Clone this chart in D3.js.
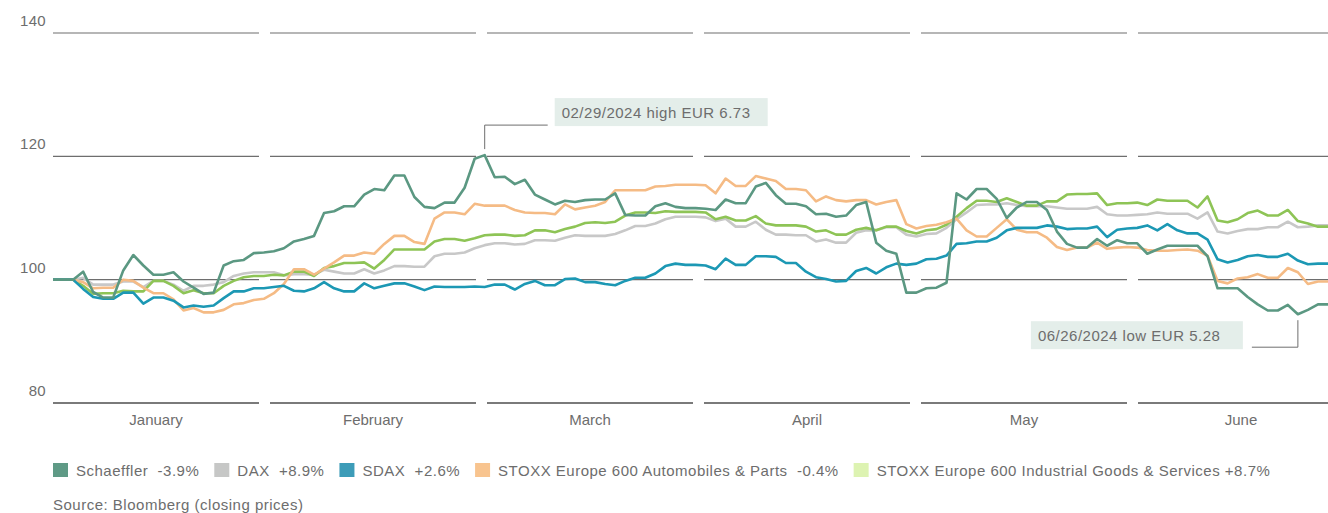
<!DOCTYPE html>
<html>
<head>
<meta charset="utf-8">
<script src="https://cdn.jsdelivr.net/npm/d3@7"></script>
<style>
  body { margin: 0; background: #fff; }
  text { font-family: "Liberation Sans", Arial, sans-serif; fill: #6d6d6d; }
  .wide { letter-spacing: 0.5px; }
</style>
</head>
<body>
<svg id="chart"></svg>
<script>
// index values, 12/29/2023 = 100, one value per trading day
var schaeffler = [100, 100, 100, 101.3, 98.0, 97.1, 97.1, 101.5, 104.0, 102.3,
  100.8, 100.8, 101.2, 99.7, 98.7, 97.7, 97.9, 102.3, 103.0, 103.2,
  104.3, 104.4, 104.6, 105.1, 106.2, 106.6, 107.1, 110.8, 111.1, 111.9,
  111.9, 113.8, 114.7, 114.5, 116.9, 116.9, 113.4, 111.8, 111.6, 112.5,
  112.5, 114.9, 119.6, 120.2, 116.6, 116.7, 115.5, 116.2, 113.8, 113.0,
  112.2, 112.8, 112.6, 112.9, 113.0, 113.0, 114.0, 110.5, 110.4, 110.4,
  111.9, 112.4, 111.8, 111.6, 111.6, 111.5, 111.3, 113.0, 112.4, 112.4,
  115.1, 115.7, 113.7, 112.3, 112.3, 111.9, 110.6, 110.7, 110.2, 110.4,
  112.1, 112.6, 106.0, 104.7, 104.2, 97.9, 97.9, 98.6, 98.7, 99.5,
  114.0, 113.0, 114.7, 114.7, 113.1, 110.0, 111.7, 112.6, 112.6, 111.3,
  107.8, 105.8, 105.2, 105.2, 106.6, 105.5, 106.4, 105.9, 105.9, 104.2,
  104.9, 105.5, 105.5, 105.5, 105.5, 103.8, 98.6, 98.6, 98.6, 97.2,
  96.0, 95.0, 95.0, 95.9, 94.4, 95.1, 96.0, 96.0];

var dax = [100, 100, 100, 100.3, 99.2, 99.2, 99.2, 99.7, 99.7, 98.8,
  99.8, 99.8, 99.2, 98.2, 99.0, 99.0, 99.2, 99.6, 100.6, 101.0,
  101.2, 101.2, 101.2, 100.7, 100.9, 100.9, 100.8, 101.6, 101.3, 101.0,
  101.0, 101.7, 101.0, 101.5, 102.2, 102.2, 102.1, 102.1, 103.8, 104.2,
  104.2, 104.4, 105.1, 105.6, 105.9, 105.9, 105.7, 105.8, 106.4, 106.4,
  106.3, 106.8, 107.2, 107.1, 107.1, 107.1, 107.4, 108.0, 108.7, 108.7,
  109.1, 109.8, 110.2, 110.2, 110.2, 110.1, 109.5, 109.9, 108.6, 108.6,
  109.4, 108.1, 107.3, 107.3, 107.2, 107.2, 106.2, 106.5, 106.0, 106.0,
  107.6, 108.0, 108.0, 108.5, 108.5, 107.3, 107.0, 107.4, 107.5, 108.4,
  109.8, 110.9, 112.1, 112.2, 112.2, 112.4, 112.1, 111.9, 111.9, 111.9,
  111.7, 111.5, 111.5, 111.5, 111.8, 110.6, 110.4, 110.4, 110.5, 110.6,
  110.9, 110.7, 110.7, 110.7, 109.9, 110.9, 107.8, 107.5, 107.9, 108.2,
  108.2, 108.5, 108.5, 109.4, 108.5, 108.6, 108.8, 108.8];

var sdax = [100, 100, 100, 98.5, 97.2, 96.9, 96.9, 97.9, 97.9, 96.1,
  97.1, 97.1, 96.6, 95.5, 95.8, 95.6, 95.8, 97.0, 98.1, 98.1,
  98.6, 98.6, 98.8, 99.0, 98.2, 98.1, 98.6, 99.6, 98.6, 98.1,
  98.1, 99.4, 98.6, 99.0, 99.4, 99.4, 98.9, 98.3, 98.9, 98.8,
  98.8, 98.8, 98.9, 98.8, 99.2, 99.2, 98.4, 99.3, 99.8, 99.1,
  99.1, 100.1, 100.2, 99.6, 99.6, 99.3, 99.1, 99.8, 100.3, 100.3,
  101.0, 102.2, 102.6, 102.4, 102.4, 102.3, 101.7, 103.4, 102.4, 102.4,
  103.8, 103.8, 103.7, 102.7, 102.7, 101.3, 100.4, 100.1, 99.7, 99.8,
  101.4, 101.9, 101.0, 102.0, 102.6, 102.4, 102.6, 103.3, 103.4, 103.9,
  105.8, 105.9, 106.2, 106.2, 106.8, 108.0, 108.4, 108.4, 108.4, 108.8,
  108.6, 108.2, 108.3, 108.3, 108.6, 106.9, 108.1, 108.3, 108.4, 108.8,
  108.0, 109.0, 108.0, 107.5, 107.5, 106.5, 103.3, 102.8, 103.2, 103.8,
  104.0, 103.7, 103.7, 104.2, 103.1, 102.5, 102.6, 102.6];

var autos = [100, 100, 100, 99.6, 98.6, 98.7, 98.7, 100.0, 99.8, 98.7,
  97.8, 97.8, 96.8, 95.0, 95.4, 94.7, 94.7, 95.1, 96.0, 96.2,
  96.7, 96.9, 97.8, 99.3, 101.7, 101.7, 100.8, 101.8, 102.8, 103.9,
  103.9, 104.4, 104.2, 105.8, 107.1, 107.1, 106.1, 105.8, 109.9, 110.9,
  110.9, 110.6, 112.3, 112.0, 112.0, 112.0, 111.3, 110.9, 110.8, 110.8,
  110.6, 112.2, 111.4, 111.7, 112.0, 112.6, 114.5, 114.5, 114.5, 114.5,
  115.1, 115.2, 115.4, 115.4, 115.4, 115.3, 114.0, 116.4, 115.2, 115.2,
  116.8, 116.4, 116.0, 114.7, 114.7, 114.5, 112.7, 113.5, 112.9, 112.7,
  112.9, 112.9, 112.2, 112.6, 112.9, 109.0, 108.3, 108.7, 108.9, 109.3,
  109.9, 108.0, 107.0, 107.0, 108.4, 109.8, 108.1, 107.7, 107.7, 106.8,
  105.3, 104.8, 105.2, 105.2, 106.0, 105.0, 105.2, 105.3, 105.2, 104.8,
  104.7, 104.7, 104.8, 104.9, 104.7, 103.9, 99.8, 99.4, 100.2, 100.4,
  100.9, 100.3, 100.3, 101.9, 101.2, 99.3, 99.7, 99.7];

var industrials = [100, 100, 100, 99.0, 97.7, 97.8, 97.8, 98.2, 98.1, 98.1,
  99.8, 99.8, 99.0, 97.8, 98.3, 97.8, 97.8, 99.0, 99.8, 100.4,
  100.6, 100.6, 100.8, 100.7, 101.3, 101.3, 100.6, 101.9, 102.2, 102.7,
  102.7, 102.8, 101.8, 103.2, 104.9, 104.9, 104.9, 104.9, 106.2, 106.6,
  106.6, 106.3, 106.7, 107.2, 107.3, 107.3, 107.1, 107.2, 108.0, 108.0,
  107.7, 108.2, 108.6, 109.2, 109.3, 109.2, 109.4, 110.4, 110.9, 110.9,
  110.8, 111.1, 111.0, 111.0, 111.0, 110.9, 109.8, 110.2, 109.6, 109.6,
  110.3, 109.1, 108.8, 108.8, 108.8, 108.6, 107.8, 108.0, 107.3, 107.3,
  108.1, 108.4, 108.0, 108.6, 108.6, 107.9, 107.5, 108.0, 108.2, 108.9,
  110.2, 111.6, 112.8, 112.8, 112.6, 113.2, 112.6, 112.0, 112.0, 112.7,
  112.7, 113.8, 113.9, 113.9, 114.0, 112.1, 112.4, 112.4, 112.5, 112.1,
  113.0, 112.8, 112.8, 112.8, 111.7, 113.5, 109.6, 109.3, 109.8, 110.8,
  111.2, 110.4, 110.4, 111.3, 109.5, 109.1, 108.6, 108.6];

var months = ["January", "February", "March", "April", "May", "June"];
var yTicks = [80, 100, 120, 140];

var seriesNames = ["Schaeffler", "DAX", "SDAX", "STOXX Europe 600 Automobiles & Parts", "STOXX Europe 600 Industrial Goods & Services"];
var seriesChanges = ["  -3.9%", "  +8.9%", "  +2.6%", "  -0.4%", " +8.7%"];
var lineColors = ["#5b9882", "#c8c8c8", "#1c98b4", "#f5bb85", "#8ec456"];
var swatchColors = ["#5f9a86", "#c6c7c6", "#3d9cb8", "#f8c48f", "#ddf3b2"];

var highLabel = "02/29/2024 high EUR 6.73";
var lowLabel = "06/26/2024 low EUR 5.28";

var width = 1328, height = 513;

var svg = d3.select("#chart")
    .attr("width", width)
    .attr("height", height);

var x = d3.scaleLinear()
    .domain([0, schaeffler.length - 1])
    .range([53, 1328]);

var y = d3.scaleLinear()
    .domain([80, 140])
    .range([403, 33]);

var monthBand = d3.scaleBand()
    .domain(months)
    .range([53, 1344])
    .paddingInner(11 / 217)
    .paddingOuter(0);

// gridlines, broken up into one piece per month
yTicks.forEach(function(t) {
    svg.selectAll(null)
        .data(months)
        .enter()
        .append("line")
        .attr("x1", function(m) { return monthBand(m); })
        .attr("x2", function(m) { return monthBand(m) + monthBand.bandwidth(); })
        .attr("y1", y(t))
        .attr("y2", y(t))
        .attr("stroke", t == 80 ? "#7a7a7a" : "#6e6e6e")
        .attr("stroke-width", t == 80 ? 2 : 1.2);
});

svg.selectAll(".ytick")
    .data(yTicks)
    .enter()
    .append("text")
    .attr("class", "ytick")
    .attr("x", 46)
    .attr("y", function(d) { return y(d) - 7; })
    .attr("text-anchor", "end")
    .style("font-size", "15px")
    .style("letter-spacing", "0.3px")
    .text(function(d) { return d; });

svg.selectAll(".month")
    .data(months)
    .enter()
    .append("text")
    .attr("class", "month")
    .attr("x", function(m) { return monthBand(m) + monthBand.bandwidth() / 2; })
    .attr("y", 425)
    .attr("text-anchor", "middle")
    .style("font-size", "15px")
    .text(function(m) { return m; });

// lines: grey first, Schaeffler on top
var allSeries = [schaeffler, dax, sdax, autos, industrials];
var drawOrder = [1, 4, 3, 2, 0];

var line = d3.line()
    .x(function(d, i) { return x(i); })
    .y(function(d) { return y(d); });

drawOrder.forEach(function(k) {
    svg.append("path")
        .datum(allSeries[k])
        .attr("fill", "none")
        .attr("stroke", lineColors[k])
        .attr("stroke-width", 2.6)
        .attr("stroke-linejoin", "round")
        .attr("d", line);
});

// high / low callouts
var hi = d3.maxIndex(schaeffler), lo = d3.minIndex(schaeffler);
var hx = x(hi), hy = y(schaeffler[hi]);
var lx = x(lo), ly = y(schaeffler[lo]);

svg.append("path")
    .attr("d", "M" + hx + "," + (hy - 6) + "V" + (hy - 30) + "H" + (hx + 63))
    .attr("fill", "none")
    .attr("stroke", "#6e6e6e")
    .attr("stroke-width", 1);
svg.append("rect")
    .attr("x", hx + 70).attr("y", hy - 57)
    .attr("width", 213).attr("height", 28)
    .attr("fill", "#e4eeea");
svg.append("text")
    .attr("class", "wide")
    .attr("x", hx + 77).attr("y", hy - 37)
    .style("font-size", "15px")
    .text(highLabel);

svg.append("path")
    .attr("d", "M" + lx + "," + (ly + 6) + "V" + (ly + 33) + "H" + (lx - 46))
    .attr("fill", "none")
    .attr("stroke", "#6e6e6e")
    .attr("stroke-width", 1);
svg.append("rect")
    .attr("x", lx - 267).attr("y", ly + 7)
    .attr("width", 212).attr("height", 28)
    .attr("fill", "#e4eeea");
svg.append("text")
    .attr("class", "wide")
    .attr("x", lx - 260).attr("y", ly + 27)
    .style("font-size", "15px")
    .text(lowLabel);

// legend
var lgX = 53;
seriesNames.forEach(function(name, k) {
    svg.append("rect")
        .attr("x", lgX).attr("y", 463)
        .attr("width", 15).attr("height", 14)
        .attr("fill", swatchColors[k]);
    var t = svg.append("text")
        .attr("class", "wide")
        .attr("x", lgX + 23).attr("y", 476)
        .style("font-size", "15px")
        .style("white-space", "pre")
        .text(name + seriesChanges[k]);
    lgX += 23 + t.node().getComputedTextLength() + 15;
});

svg.append("text")
    .attr("class", "wide")
    .attr("x", 53).attr("y", 510)
    .style("font-size", "15px")
    .text("Source: Bloomberg (closing prices)");
</script>
</body>
</html>
